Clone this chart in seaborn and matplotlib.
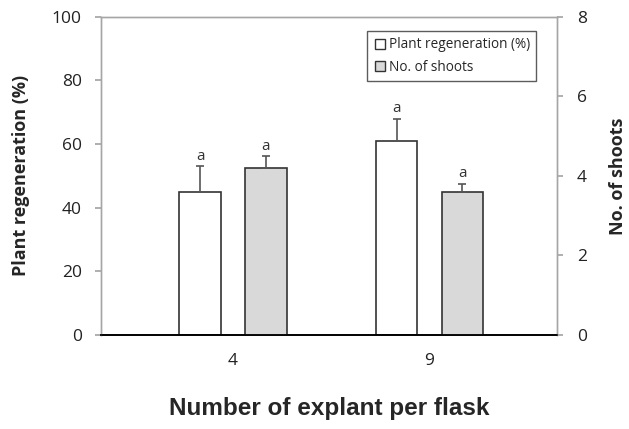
import pandas as pd
import seaborn as sns
import matplotlib.pyplot as plt

explants = ["4", "9"]
regeneration = [45.0, 61.0]
regeneration_err = [8.0, 7.0]
shoots = [4.2, 3.6]
shoots_err = [0.3, 0.2]
letters_regen = ["a", "a"]
letters_shoots = ["a", "a"]

series = ["Plant regeneration (%)", "No. of shoots"]

sns.set_theme(style="white")
plt.rcParams["font.family"] = ["Open Sans", "DejaVu Sans"]

df = pd.DataFrame({
    "explant": explants * 2,
    "series": [series[0]] * 2 + [series[1]] * 2,
    "regen": regeneration + [float("nan")] * 2,
    "shoots": [float("nan")] * 2 + shoots,
})

fig = plt.figure(figsize=(6.29, 4.29), dpi=100)
ax = fig.add_axes([0.161, 0.219, 0.725, 0.742])
ax2 = ax.twinx()

sns.barplot(data=df, x="explant", y="regen", hue="series", hue_order=series,
            palette=["white", "white"], width=0.67, gap=0.37, errorbar=None,
            edgecolor="#333333", linewidth=1.2, ax=ax, legend=False)
sns.barplot(data=df, x="explant", y="shoots", hue="series", hue_order=series,
            palette=["#d9d9d9", "#d9d9d9"], width=0.67, gap=0.37, errorbar=None,
            edgecolor="#333333", linewidth=1.2, ax=ax2, legend=False)


def add_errors(axis, errs, letters, offset):
    bars = [p for p in axis.patches if p.get_height() == p.get_height() and p.get_height() > 0]
    bars = sorted(bars, key=lambda p: p.get_x())
    for p, e, lab in zip(bars, errs, letters):
        xc = p.get_x() + p.get_width() / 2
        h = p.get_height()
        axis.errorbar([xc], [h], yerr=[[0], [e]], fmt="none", ecolor="#555555",
                      elinewidth=1.2, capsize=3, capthick=1.2)
        axis.text(xc, h + e + offset, lab, ha="center", va="bottom",
                  fontsize=11, color="#333333")


add_errors(ax, regeneration_err, letters_regen, 0.8)
add_errors(ax2, shoots_err, letters_shoots, 0.06)

ax.set_xlim(-0.67, 1.65)
ax.set_ylim(0, 100)
ax2.set_ylim(0, 8)
ax.set_yticks(range(0, 101, 20))
ax2.set_yticks(range(0, 9, 2))

for a in (ax, ax2):
    for s in ("left", "right", "top"):
        a.spines[s].set_color("#a6a6a6")
        a.spines[s].set_linewidth(1.0)
    a.spines["bottom"].set_color("black")
    a.spines["bottom"].set_linewidth(1.2)

ax.tick_params(axis="y", which="major", left=True, length=4, color="#a6a6a6",
               labelsize=12.5, pad=10, labelcolor="#222222")
ax2.tick_params(axis="y", which="major", right=True, length=4, color="#a6a6a6",
                labelsize=12.5, pad=10, labelcolor="#222222")
ax.tick_params(axis="x", bottom=False, labelsize=12.5, pad=7, labelcolor="#222222")

ax.set_xlabel("Number of explant per flask", fontsize=17.5, fontweight="bold",
              family=["Liberation Sans", "DejaVu Sans"], labelpad=20)
ax.set_ylabel("Plant regeneration (%)", fontsize=13, fontweight="bold", labelpad=16)
ax2.set_ylabel("No. of shoots", fontsize=13, fontweight="bold", labelpad=16)

handles = [plt.Line2D([], [], marker="s", linestyle="none", markersize=7,
                      markerfacecolor="white", markeredgecolor="#333333"),
           plt.Line2D([], [], marker="s", linestyle="none", markersize=7,
                      markerfacecolor="#d9d9d9", markeredgecolor="#333333")]
leg = ax2.legend(handles, series, loc="upper right", bbox_to_anchor=(0.968, 0.976),
                 fontsize=9.8, frameon=True, fancybox=False, handletextpad=0.1,
                 handlelength=1.0, borderpad=0.45, labelspacing=0.55)
leg.get_frame().set_edgecolor("#333333")
leg.get_frame().set_linewidth(1.0)

fig.savefig("out.png", dpi=100)
